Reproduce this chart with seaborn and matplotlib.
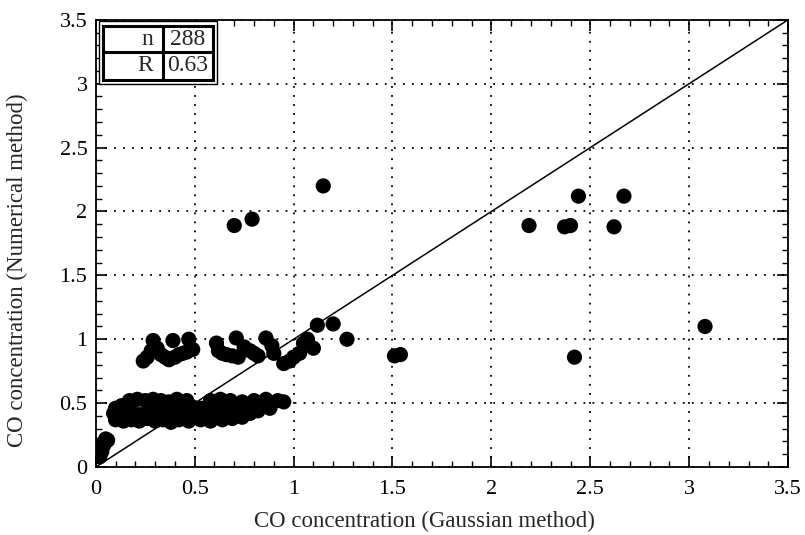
import numpy as np
import pandas as pd
import matplotlib
matplotlib.use("Agg")
import matplotlib.pyplot as plt
from matplotlib.ticker import MultipleLocator
from matplotlib.patches import Rectangle
import seaborn as sns

# ---- data ----
origin_x = [0.02, 0.02, 0.03, 0.03, 0.04, 0.04, 0.05, 0.05, 0.06, 0.03, 0.02]
origin_y = [0.10, 0.13, 0.15, 0.12, 0.17, 0.19, 0.20, 0.22, 0.21, 0.18, 0.08]

lowA_x = [0.17, 0.21, 0.25, 0.29, 0.33, 0.37, 0.41, 0.46, 0.58, 0.63, 0.68, 0.74, 0.80, 0.86, 0.92, 0.95]
lowA_y = [0.52, 0.53, 0.52, 0.53, 0.52, 0.51, 0.53, 0.52, 0.52, 0.53, 0.52, 0.51, 0.52, 0.53, 0.52, 0.51]
lowB_x = [0.10, 0.13, 0.16, 0.27, 0.31, 0.35, 0.39, 0.43, 0.49, 0.53, 0.60, 0.66, 0.71, 0.77, 0.83, 0.88]
lowB_y = [0.46, 0.48, 0.47, 0.47, 0.48, 0.46, 0.47, 0.48, 0.47, 0.46, 0.47, 0.48, 0.47, 0.46, 0.47, 0.46]
lowC_x = [0.09, 0.13, 0.18, 0.22, 0.30, 0.34, 0.38, 0.44, 0.50, 0.56, 0.62, 0.67, 0.72, 0.78, 0.82]
lowC_y = [0.42, 0.41, 0.43, 0.41, 0.42, 0.43, 0.41, 0.42, 0.43, 0.41, 0.42, 0.41, 0.43, 0.42, 0.44]
lowD_x = [0.10, 0.14, 0.18, 0.22, 0.26, 0.30, 0.34, 0.38, 0.42, 0.47, 0.53, 0.58, 0.64, 0.69, 0.74]
lowD_y = [0.37, 0.36, 0.37, 0.36, 0.38, 0.36, 0.37, 0.35, 0.37, 0.36, 0.37, 0.36, 0.37, 0.38, 0.39]

up_x = [0.24, 0.26, 0.28, 0.29, 0.31, 0.33, 0.35, 0.37, 0.39, 0.40, 0.42, 0.44, 0.46, 0.47, 0.49,
        0.61, 0.62, 0.64, 0.66, 0.69, 0.71, 0.72, 0.75, 0.78, 0.80, 0.82, 0.86, 0.89, 0.90,
        0.95, 0.98, 1.00, 1.03, 1.05, 1.07, 1.10]
up_y = [0.83, 0.86, 0.91, 0.99, 0.93, 0.88, 0.86, 0.84, 0.99, 0.86, 0.88, 0.89, 0.90, 1.00, 0.92,
        0.97, 0.91, 0.89, 0.88, 0.87, 1.01, 0.86, 0.94, 0.91, 0.89, 0.87, 1.01, 0.95, 0.89,
        0.81, 0.83, 0.86, 0.89, 0.97, 1.00, 0.93]

out_x = [0.70, 0.79, 1.15, 1.12, 1.20, 1.27, 1.51, 1.54, 2.19, 2.37, 2.40, 2.44, 2.42, 2.62, 2.67, 3.08]
out_y = [1.89, 1.94, 2.20, 1.11, 1.12, 1.00, 0.87, 0.88, 1.89, 1.88, 1.89, 2.12, 0.86, 1.88, 2.12, 1.10]

diag_x = [0.0, 3.5]
diag_y = [0.0, 3.5]

tick_vals = [0, 0.5, 1, 1.5, 2, 2.5, 3, 3.5]
tick_labels = ["0", "0.5", "1", "1.5", "2", "2.5", "3", "3.5"]

table_rows = [["n", "288"], ["R", "0.63"]]

x_label = "CO concentration (Gaussian method)"
y_label = "CO concentration (Numerical method)"

# ---- build frame ----
xs = origin_x + lowA_x + lowB_x + lowC_x + lowD_x + up_x + out_x
ys = origin_y + lowA_y + lowB_y + lowC_y + lowD_y + up_y + out_y
df = pd.DataFrame({"gauss": xs, "numer": ys})

sns.set_style("ticks")
plt.rcParams["font.family"] = ["Liberation Serif", "DejaVu Serif"]

fig = plt.figure(figsize=(8.05, 5.35), dpi=100)
ax = fig.add_axes([0.119, 0.127, 0.860, 0.836])

ax.plot(diag_x, diag_y, color="black", linewidth=1.1, zorder=2)
sns.scatterplot(data=df, x="gauss", y="numer", color="black", s=120,
                edgecolor="none", linewidth=0, ax=ax, zorder=3)

ax.set_xlim(0, 3.5)
ax.set_ylim(0, 3.5)
ax.set_xticks(tick_vals)
ax.set_xticklabels(tick_labels)
ax.set_yticks(tick_vals)
ax.set_yticklabels(tick_labels)
ax.xaxis.set_minor_locator(MultipleLocator(0.1))
ax.yaxis.set_minor_locator(MultipleLocator(0.1))
ax.tick_params(which="both", direction="in", top=True, right=True, colors="black",
               labelsize=16)
ax.tick_params(axis="x", which="major", length=8, width=1.2, pad=9)
ax.tick_params(axis="y", which="major", length=8, width=1.2, pad=6)
ax.tick_params(which="minor", length=4, width=1.0)

ax.grid(which="major", linestyle=(0, (1, 4)), color="black", linewidth=1.3)
for s in ax.spines.values():
    s.set_color("black")
    s.set_linewidth(1.3)

ax.set_xlabel(x_label, fontsize=16.5)
ax.set_ylabel(y_label, fontsize=16.5)
ax.xaxis.label.set_va("center")
ax.yaxis.label.set_va("center")
ax.xaxis.set_label_coords(0.475, -0.121)
ax.yaxis.set_label_coords(-0.113, 0.44)

# ---- n / R table in upper-left corner ----
tr = ax.transAxes
outer = Rectangle((0.004, 0.857), 0.171, 0.141, transform=tr, facecolor="white",
                  edgecolor="black", linewidth=1.0, zorder=5)
ax.add_patch(outer)
inner = Rectangle((0.011, 0.866), 0.158, 0.121, transform=tr, facecolor="white",
                  edgecolor="black", linewidth=2.2, zorder=6)
ax.add_patch(inner)
ax.plot([0.097, 0.097], [0.866, 0.987], transform=tr, color="black", linewidth=2.2, zorder=7)
ax.plot([0.011, 0.169], [0.928, 0.928], transform=tr, color="black", linewidth=2.2, zorder=7)
row_y = [0.957, 0.897]
for (lab, val), yy in zip(table_rows, row_y):
    ax.text(0.083, yy, lab, transform=tr, ha="right", va="center", fontsize=17, zorder=8)
    ax.text(0.133, yy, val, transform=tr, ha="center", va="center", fontsize=17, zorder=8)

fig.savefig("out.png", dpi=100, facecolor="white")
